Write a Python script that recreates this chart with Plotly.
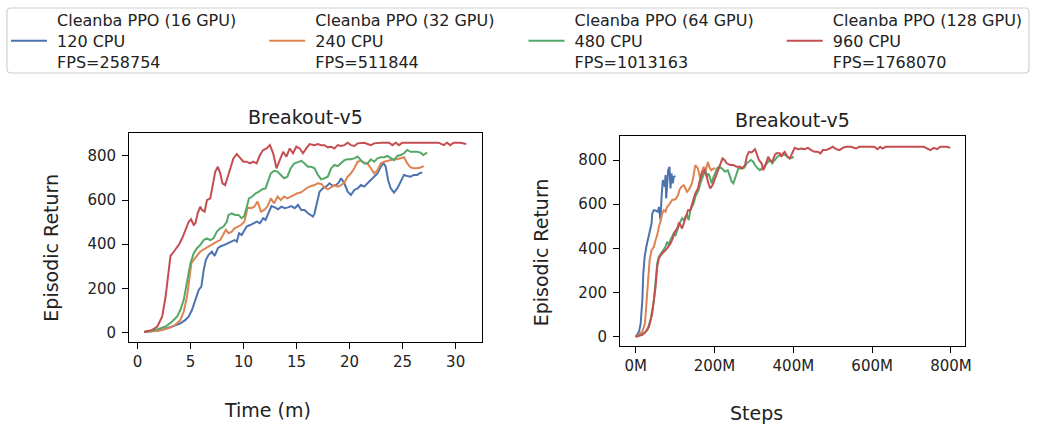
import plotly.graph_objects as go

W, H = 1039, 424

# ---------------- data ----------------
series_names = [
    "Cleanba PPO (16 GPU)<br>120 CPU<br>FPS=258754",
    "Cleanba PPO (32 GPU)<br>240 CPU<br>FPS=511844",
    "Cleanba PPO (64 GPU)<br>480 CPU<br>FPS=1013163",
    "Cleanba PPO (128 GPU)<br>960 CPU<br>FPS=1768070",
]
colors = ["#4C72B0", "#DD8452", "#55A868", "#C44E52"]

# Left panel: time (minutes) vs episodic return
blue_t = [0.63, 2.34, 3.28, 4.06, 4.53, 4.84, 5.15, 5.47, 5.78, 6.03, 6.25, 6.46, 6.71, 7.03, 7.28, 7.59, 7.90, 8.21, 8.52, 8.84,
          9.15, 9.37, 9.59, 9.83, 10.08, 10.30, 10.62, 10.93, 11.24, 11.55, 11.86, 12.08, 12.33, 12.64, 12.96, 13.27, 13.58, 13.89,
          14.20, 14.52, 14.83, 15.14, 15.45, 15.76, 16.08, 16.39, 16.55, 16.70, 16.86, 17.01, 17.17, 17.48, 17.79, 18.11, 18.42,
          18.73, 19.04, 19.20, 19.51, 19.82, 20.13, 20.45, 20.76, 21.07, 21.38, 21.69, 22.01, 22.32, 22.63, 22.94, 23.19, 23.41,
          23.63, 23.88, 24.19, 24.50, 24.82, 25.13, 25.44, 25.75, 26.06, 26.38, 26.69, 26.85]
blue_r = [2, 12, 27, 42, 57, 73, 103, 148, 193, 208, 284, 329, 352, 367, 347, 382, 392, 397, 404, 412,
          419, 412, 450, 442, 465, 480, 487, 495, 502, 495, 518, 510, 540, 573, 567, 558, 570, 563,
          567, 573, 563, 578, 555, 555, 540, 528, 525, 540, 570, 608, 638, 653, 661, 676, 664,
          668, 683, 699, 676, 638, 623, 646, 653, 668, 661, 676, 691, 706, 721, 751, 769, 751,
          691, 653, 634, 653, 683, 714, 709, 706, 714, 714, 724, 724]

orange_t = [0.63, 2.03, 2.97, 3.59, 4.06, 4.37, 4.68, 4.90, 5.09, 5.31, 5.62, 5.93, 6.25, 6.56, 6.87, 7.18, 7.49, 7.81, 8.12, 8.34,
            8.59, 8.90, 9.15, 9.46, 9.77, 10.08, 10.40, 10.71, 11.02, 11.33, 11.65, 11.96, 12.27, 12.58, 12.89, 13.21, 13.52, 13.83,
            14.14, 14.45, 14.77, 15.08, 15.39, 15.70, 16.08, 16.39, 16.70, 17.01, 17.33, 17.64, 17.95, 18.26, 18.57, 18.89, 19.20,
            19.51, 19.82, 20.13, 20.45, 20.76, 21.07, 21.38, 21.69, 22.01, 22.32, 22.63, 22.94, 23.26, 23.57, 23.88, 24.19, 24.50,
            24.82, 25.13, 25.44, 25.75, 26.06, 26.38, 26.69, 27.00]
orange_r = [2, 8, 20, 35, 57, 95, 163, 238, 314, 329, 347, 367, 377, 386, 397, 404, 412, 419, 450, 465,
            450, 457, 472, 480, 487, 502, 567, 563, 570, 593, 548, 555, 573, 608, 585, 616, 600, 616,
            608, 616, 623, 631, 634, 646, 658, 664, 668, 676, 673, 658, 649, 658, 668, 661, 668,
            679, 706, 721, 744, 774, 778, 769, 766, 744, 721, 736, 766, 774, 778, 781, 785, 785,
            789, 794, 766, 748, 744, 744, 748, 754]

green_t = [0.63, 1.72, 2.66, 3.28, 3.75, 4.06, 4.37, 4.68, 5.00, 5.31, 5.62, 5.93, 6.25, 6.56, 6.87, 7.18, 7.49, 7.81, 8.12, 8.43,
           8.59, 8.90, 9.21, 9.52, 9.83, 10.08, 10.30, 10.52, 10.83, 11.15, 11.46, 11.77, 12.08, 12.33, 12.58, 12.89, 13.21, 13.52,
           13.83, 14.14, 14.45, 14.77, 15.14, 15.45, 15.76, 16.08, 16.39, 16.70, 17.01, 17.33, 17.64, 17.95, 18.26, 18.57, 18.89,
           19.20, 19.51, 19.82, 20.13, 20.45, 20.76, 21.07, 21.38, 21.69, 22.01, 22.32, 22.63, 22.94, 23.26, 23.57, 23.88, 24.19,
           24.50, 24.82, 25.13, 25.44, 25.75, 26.06, 26.38, 26.69, 26.94, 27.31]
green_r = [2, 12, 27, 50, 73, 103, 148, 238, 314, 359, 382, 397, 419, 427, 419, 427, 457, 472, 480, 502,
           533, 540, 533, 533, 518, 528, 570, 608, 616, 631, 638, 649, 653, 683, 721, 733, 729, 714,
           699, 706, 744, 766, 774, 778, 766, 751, 751, 744, 714, 694, 699, 706, 744, 759, 754,
           766, 781, 785, 785, 789, 797, 781, 766, 766, 785, 774, 789, 794, 794, 800, 789, 781,
           800, 804, 812, 827, 819, 819, 819, 815, 804, 815]

red_t = [0.63, 1.41, 1.88, 2.34, 2.66, 2.91, 3.12, 3.44, 3.90, 4.22, 4.53, 4.84, 5.06, 5.31, 5.47, 5.68, 5.93, 6.09, 6.34, 6.56,
         6.87, 7.09, 7.34, 7.59, 7.81, 8.02, 8.27, 8.52, 8.84, 9.05, 9.37, 9.68, 9.99, 10.30, 10.62, 10.93, 11.24, 11.55, 11.86,
         12.18, 12.49, 12.80, 13.11, 13.42, 13.74, 14.05, 14.36, 14.67, 14.98, 15.30, 15.61, 15.92, 16.23, 16.70, 17.01, 17.33,
         17.64, 17.95, 18.26, 18.57, 18.89, 19.20, 19.51, 19.82, 20.13, 20.45, 20.76, 21.38, 22.01, 22.32, 22.94, 23.72, 24.04,
         24.35, 24.66, 24.97, 26.06, 27.62, 28.41, 28.87, 29.19, 29.50, 29.81, 30.43, 31.00]
red_r = [2, 12, 27, 73, 163, 269, 347, 367, 397, 427, 465, 502, 513, 487, 495, 540, 570, 555, 548, 600,
         608, 661, 729, 751, 721, 676, 668, 706, 751, 789, 809, 789, 774, 774, 766, 774, 766, 804, 827,
         834, 849, 812, 744, 781, 819, 797, 834, 812, 842, 834, 812, 834, 854, 849, 854, 849,
         849, 839, 842, 834, 849, 845, 849, 860, 849, 845, 857, 860, 849, 857, 860, 860, 849,
         860, 849, 860, 860, 860, 860, 849, 860, 849, 860, 860, 854]

# Right panel: environment steps (millions) vs episodic return
blue_s = [0, 8.4, 12.6, 16.8, 19.3, 22.7, 26.9, 31.9, 35.3, 40.3, 42.0, 46.2, 52.1, 57.2, 58.8, 63.0, 65.6, 68.9, 74.0,
          75.6, 77.3, 79.8, 82.4, 85.7, 88.3, 90.8, 94.1, 96.6, 100.9]
blue_v = [0, 23, 60, 166, 287, 362, 407, 453, 483, 513, 558, 573, 570, 566, 588, 528, 634, 709, 679,
          732, 626, 717, 754, 769, 671, 739, 694, 724, 727]

orange_s = [0, 16.8, 23.5, 27.7, 31.1, 35.3, 40.3, 46.2, 50.4, 54.6, 58.8, 63.0, 67.2, 71.4, 75.6, 79.8, 84.0, 88.3, 92.5,
            100.9, 107.6, 110.9, 116.0, 121.9, 126.1, 130.3, 134.5, 138.7, 142.9, 147.1, 151.3, 157.7, 163.9, 168.1, 172.3,
            178.2, 183.2, 186.6, 191.6, 197.5, 201.7]
orange_v = [0, 23, 60, 166, 287, 347, 392, 407, 438, 460, 498, 521, 558, 573, 566, 588, 596, 611, 619,
            622, 641, 664, 679, 686, 671, 656, 664, 679, 694, 732, 777, 762, 717, 747, 769,
            754, 792, 769, 754, 762, 762]

green_s = [0, 21.0, 29.4, 37.8, 46.2, 50.4, 54.6, 58.8, 67.2, 71.4, 75.6, 79.8, 84.0, 88.3, 92.5, 96.6, 100.9, 105.1, 109.3,
           113.5, 117.7, 121.9, 126.1, 130.3, 134.5, 138.7, 142.9, 147.1, 151.3, 155.5, 159.7, 163.9, 168.1, 172.3, 176.5,
           180.7, 184.9, 189.1, 193.3, 197.5, 201.7, 205.9, 211.8, 218.5, 226.9, 233.7, 239.5, 243.7, 247.9, 252.1, 256.3,
           260.5, 267.3, 275.7, 281.6, 287.4, 292.5, 298.4, 302.6, 309.3, 315.2, 321.1, 327.8, 334.5, 340.4, 346.3, 353.0,
           359.7, 365.6, 371.5, 378.2, 384.9, 390.8, 396.7, 400.9]
green_v = [0, 15, 30, 76, 166, 257, 332, 362, 385, 400, 407, 430, 415, 438, 453, 468, 460, 483, 498,
           521, 536, 528, 543, 551, 528, 573, 588, 603, 634, 649, 664, 694, 717, 732, 754,
           724, 739, 717, 694, 724, 739, 762, 769, 762, 747, 754, 724, 702, 694, 717, 747,
           762, 762, 765, 785, 795, 800, 792, 777, 762, 754, 762, 777, 792, 800, 785, 800,
           815, 822, 822, 825, 815, 807, 810, 815]

red_s = [0, 16.8, 25.2, 33.6, 42.0, 50.4, 54.6, 58.8, 67.2, 71.4, 79.8, 88.3, 94.1, 99.2, 105.1, 109.3, 113.5, 117.7, 121.9,
         126.1, 132.8, 138.7, 142.9, 147.1, 151.3, 158.0, 163.9, 169.8, 174.8, 178.2, 183.2, 189.1, 195.0, 201.7, 208.4,
         214.3, 220.2, 225.2, 231.1, 239.5, 247.9, 256.3, 264.8, 270.6, 277.4, 281.6, 287.4, 294.2, 298.4, 302.6, 306.8,
         312.7, 319.4, 323.6, 327.8, 332.0, 336.2, 340.4, 346.3, 353.0, 357.2, 365.6, 369.8, 374.0, 378.2, 384.9, 390.8,
         395.0, 403.4, 411.8, 420.2, 428.6, 437.0, 445.5, 453.9, 462.3, 469.0, 474.9, 483.3, 491.7, 500.1, 508.5, 516.9,
         525.3, 533.7, 546.3, 554.7, 558.9, 567.3, 579.9, 596.7, 605.1, 613.6, 620.3, 626.2, 634.6, 647.2, 672.4, 714.4,
         731.2, 739.6, 748.0, 756.4, 764.8, 773.2, 790.1, 798.5]
red_v = [0, 8, 23, 45, 106, 226, 317, 355, 377, 385, 400, 422, 445, 475, 490, 513, 505, 490, 513,
         543, 573, 573, 603, 626, 649, 671, 717, 747, 754, 739, 702, 671, 686, 717, 747,
         777, 807, 800, 785, 777, 777, 769, 769, 762, 777, 815, 837, 834, 840, 849, 830,
         800, 785, 754, 769, 792, 815, 800, 792, 822, 830, 830, 815, 830, 837, 815, 807,
         822, 855, 849, 852, 849, 855, 845, 837, 837, 830, 845, 845, 852, 860, 849, 845,
         855, 860, 860, 855, 852, 860, 860, 860, 860, 849, 860, 852, 860, 860, 860, 860,
         860, 852, 845, 855, 849, 860, 860, 855]

left_x_ticks = [0, 5, 10, 15, 20, 25, 30]
y_ticks = [0, 200, 400, 600, 800]
right_x_tickvals = [0, 200, 400, 600, 800]
right_x_ticktext = ["0M", "200M", "400M", "600M", "800M"]

panel_title = "Breakout-v5"
left_xlabel = "Time (m)"
right_xlabel = "Steps"
ylabel = "Episodic Return"

# ---------------- figure ----------------
FONT = "DejaVu Sans"
fig = go.Figure()

left_series = [(blue_t, blue_r), (orange_t, orange_r), (green_t, green_r), (red_t, red_r)]
right_series = [(blue_s, blue_v), (orange_s, orange_v), (green_s, green_v), (red_s, red_v)]
legend_ids = ["legend", "legend2", "legend3", "legend4"]

def legend_label(name):
    # small leading gap between legend line and text, as in the reference
    return "<br>".join("\u00a0" + part for part in name.split("<br>"))

for i, (xs, ys) in enumerate(left_series):
    fig.add_trace(go.Scatter(x=xs, y=ys, mode="lines", name=legend_label(series_names[i]),
                             line=dict(color=colors[i], width=2), xaxis="x", yaxis="y",
                             legend=legend_ids[i], legendgroup=str(i), showlegend=True))
for i, (xs, ys) in enumerate(right_series):
    fig.add_trace(go.Scatter(x=xs, y=ys, mode="lines", name=legend_label(series_names[i]),
                             line=dict(color=colors[i], width=2), xaxis="x2", yaxis="y2",
                             legend=legend_ids[i], legendgroup=str(i), showlegend=False))

def px_x(p):
    return p / W

def px_y(p):
    return 1 - p / H

axis_common = dict(showline=True, linecolor="black", linewidth=1.2, mirror=True,
                   ticks="outside", ticklen=6, tickwidth=1.2, tickcolor="black",
                   showgrid=False, zeroline=False,
                   tickfont=dict(family=FONT, size=15, color="#222222"))

legend_common = dict(orientation="v", xanchor="left", yanchor="top", y=px_y(3),
                     itemwidth=36, valign="middle", bgcolor="rgba(0,0,0,0)", borderwidth=0,
                     font=dict(family=FONT, size=16, color="#222222"))
legend_x_px = [6, 266, 527, 787]

fig.update_layout(
    width=W, height=H,
    margin=dict(l=0, r=0, t=0, b=0),
    paper_bgcolor="white", plot_bgcolor="white",
    font=dict(family=FONT, color="#222222"),
    xaxis=dict(domain=[px_x(130), px_x(485)], range=[-0.78, 32.46],
               tickvals=left_x_ticks, anchor="y", **axis_common),
    yaxis=dict(domain=[px_y(342), px_y(133)], range=[-43, 904],
               tickvals=y_ticks, anchor="x", ticklabelstandoff=3, **axis_common),
    xaxis2=dict(domain=[px_x(624.3), px_x(971.7)], range=[-39.6, 836],
                tickvals=right_x_tickvals, ticktext=right_x_ticktext, anchor="y2", **axis_common),
    yaxis2=dict(domain=[px_y(346), px_y(135.7)], range=[-42, 910],
                tickvals=y_ticks, anchor="x2", ticklabelstandoff=3, **axis_common),
    showlegend=True,
    legend=dict(x=px_x(legend_x_px[0]), **legend_common),
    legend2=dict(x=px_x(legend_x_px[1]), **legend_common),
    legend3=dict(x=px_x(legend_x_px[2]), **legend_common),
    legend4=dict(x=px_x(legend_x_px[3]), **legend_common),
)

# rounded legend frame
x0, x1 = px_x(7), px_x(1036)
y0, y1 = px_y(73), px_y(8)
rx, ry = 4 / W, 4 / H
path = (f"M {x0+rx},{y0} L {x1-rx},{y0} Q {x1},{y0} {x1},{y0+ry} L {x1},{y1-ry} Q {x1},{y1} {x1-rx},{y1} "
        f"L {x0+rx},{y1} Q {x0},{y1} {x0},{y1-ry} L {x0},{y0+ry} Q {x0},{y0} {x0+rx},{y0} Z")
fig.add_shape(type="path", path=path, xref="paper", yref="paper",
              line=dict(color="#d0d0d0", width=1.2), fillcolor="rgba(255,255,255,0.8)", layer="below")

ann_font_big = dict(family=FONT, size=19, color="#222222")
annotations = [
    dict(text=panel_title, x=px_x(308), y=px_y(117), font=ann_font_big),
    dict(text=panel_title, x=px_x(798), y=px_y(120), font=ann_font_big),
    dict(text=left_xlabel, x=px_x(269), y=px_y(410), font=ann_font_big),
    dict(text=right_xlabel, x=px_x(762), y=px_y(413), font=ann_font_big),
    dict(text=ylabel, x=px_x(51), y=px_y(248), font=ann_font_big, textangle=-90),
    dict(text=ylabel, x=px_x(545), y=px_y(252), font=ann_font_big, textangle=-90),
]
for a in annotations:
    fig.add_annotation(xref="paper", yref="paper", xanchor="center", yanchor="middle",
                       showarrow=False, **a)

page_css = ("var s=document.documentElement.style;s.margin='0';s.padding='0';s.overflow='hidden';"
            "var b=document.body.style;b.margin='0';b.padding='0';b.overflow='hidden';")
fig.write_html("out.html", config={"displayModeBar": False}, post_script=page_css)
